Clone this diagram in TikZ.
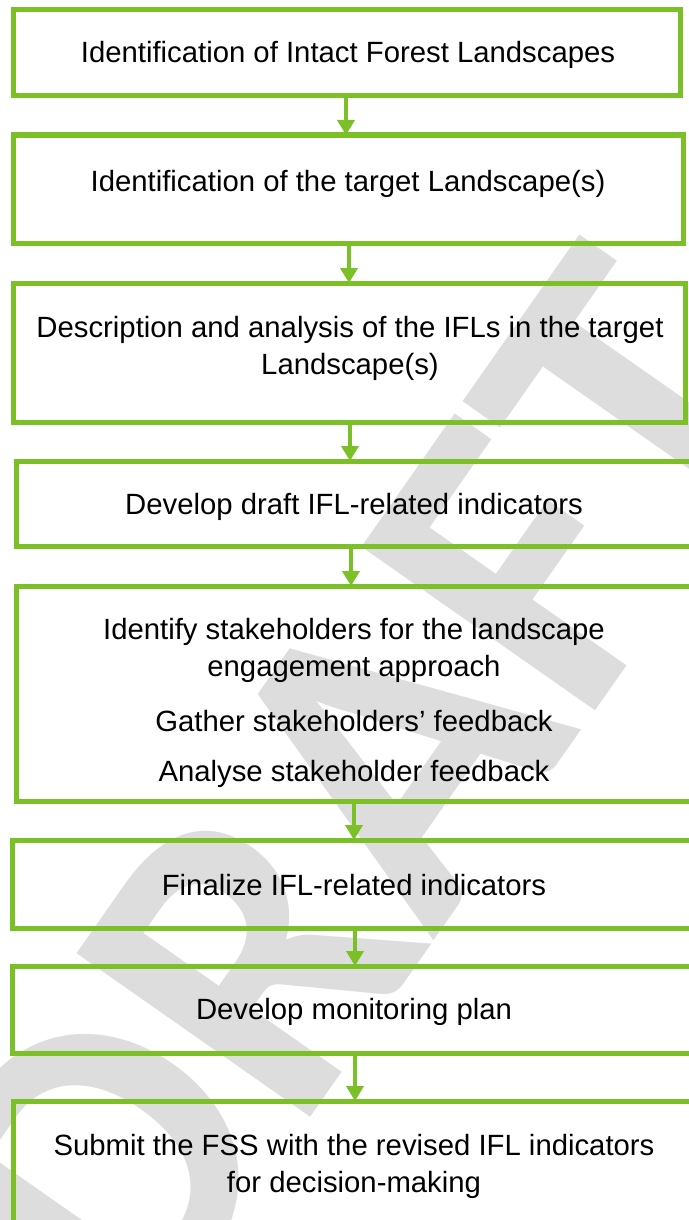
\documentclass[tikz,border=0pt]{standalone}
\usepackage{fontspec}
\setmainfont{Liberation Sans}
\newfontfamily\wmfont{Carlito}
\usetikzlibrary{arrows.meta}
\definecolor{flowgreen}{RGB}{122,192,38}
\definecolor{wmgray}{RGB}{221,221,221}
\tikzset{
  stepbox/.style={draw=flowgreen, line width=5pt, rectangle, inner sep=0pt, outer sep=0pt},
  steptext/.style={align=center, font=\fontsize{29.3}{37}\selectfont, inner sep=0pt},
  flowarrow/.style={draw=flowgreen, line width=4pt, -{Triangle[width=17pt,length=15pt]}},
  watermark/.style={text=wmgray, font=\wmfont\bfseries\fontsize{440}{440}\selectfont, inner sep=0pt}
}
\begin{document}
\begin{tikzpicture}[x=1pt,y=-1pt]
\useasboundingbox (0,0) rectangle (688,1220);
% watermark
\node[watermark, rotate=55, xscale=0.97] (wm) at (362,795) {DRAFT};
% boxes
\node[stepbox, minimum width=667pt, minimum height=86pt] (b1) at (346.5,53) {};
\node[stepbox, minimum width=670pt, minimum height=108pt] (b2) at (348,189) {};
\node[stepbox, minimum width=672pt, minimum height=139pt] (b3) at (349,352.5) {};
\node[stepbox, minimum width=680pt, minimum height=85pt] (b4) at (356,503.5) {};
\node[stepbox, minimum width=680pt, minimum height=215pt] (b5) at (356,693.5) {};
\node[stepbox, minimum width=684pt, minimum height=88pt] (b6) at (354,884) {};
\node[stepbox, minimum width=684pt, minimum height=87pt] (b7) at (354,1009.5) {};
\node[stepbox, minimum width=683pt, minimum height=200pt] (b8) at (354.5,1201) {};
% texts
\node[steptext] (t1) at (348,55) {Identification of Intact Forest Landscapes};
\node[steptext] (t2) at (348,184) {Identification of the target Landscape(s)};
\node[steptext] (t3) at (350,348.5) {Description and analysis of the IFLs in the target\\Landscape(s)};
\node[steptext] (t4) at (354,507) {Develop draft IFL-related indicators};
\node[steptext] (t5a) at (354,650.5) {Identify stakeholders for the landscape\\engagement approach};
\node[steptext] (t5b) at (354,721) {Gather stakeholders’ feedback};
\node[steptext] (t5c) at (354,774) {Analyse stakeholder feedback};
\node[steptext] (t6) at (354,885) {Finalize IFL-related indicators};
\node[steptext] (t7) at (354,1012) {Develop monitoring plan};
\node[steptext] (t8) at (354,1166.5) {Submit the FSS with the revised IFL indicators\\for decision-making};
% arrows
\draw[flowarrow] (b1.south -| 346,0) -- (b2.north -| 346,0);
\draw[flowarrow] (b2.south -| 349,0) -- (b3.north -| 349,0);
\draw[flowarrow] (b3.south -| 350,0) -- (b4.north -| 350,0);
\draw[flowarrow] (b4.south -| 351,0) -- (b5.north -| 351,0);
\draw[flowarrow] (b5.south -| 354,0) -- (b6.north -| 354,0);
\draw[flowarrow] (b6.south -| 355,0) -- (b7.north -| 355,0);
\draw[flowarrow] (b7.south -| 355,0) -- (b8.north -| 355,0);
\end{tikzpicture}
\end{document}
